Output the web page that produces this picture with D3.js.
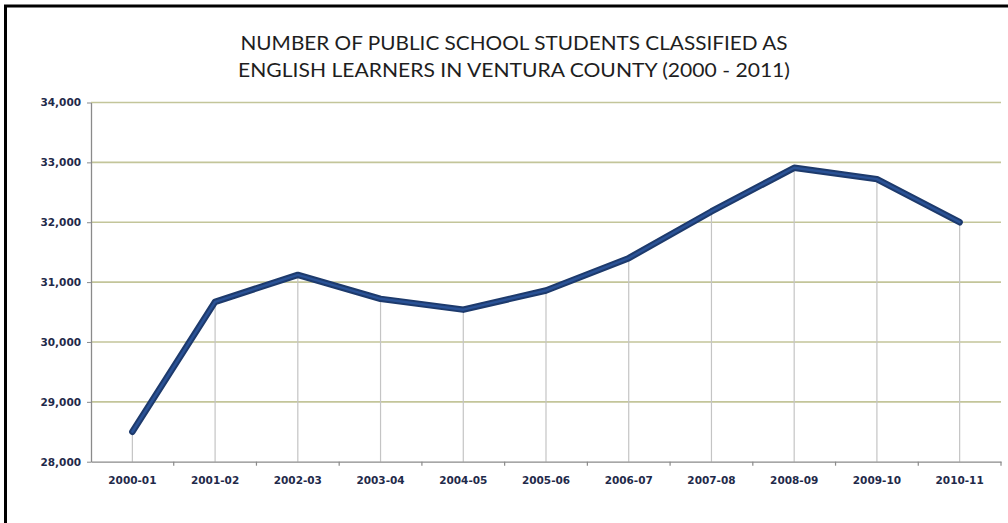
<!DOCTYPE html>
<html>
<head>
<meta charset="utf-8">
<script src="https://cdn.jsdelivr.net/npm/d3@7"></script>
<style>
  html, body { margin: 0; padding: 0; background: #fff; }
  svg { display: block; }
</style>
</head>
<body>
<svg id="chart" width="1008" height="523"></svg>
<script>
// School years on the x axis
const years = ["2000-01", "2001-02", "2002-03", "2003-04", "2004-05", "2005-06",
               "2006-07", "2007-08", "2008-09", "2009-10", "2010-11"];
// English learners enrolled in Ventura County public schools
const learners = [28500, 30670, 31120, 30720, 30540, 30860,
                  31400, 32180, 32910, 32720, 32000];
// Y axis tick values
const yTicks = [28000, 29000, 30000, 31000, 32000, 33000, 34000];
const titleLines = ["NUMBER OF PUBLIC SCHOOL STUDENTS CLASSIFIED AS",
                    "ENGLISH LEARNERS IN VENTURA COUNTY (2000 - 2011)"];

const svg = d3.select("#chart");
const margin = { left: 91, right: 1001, top: 102.5, bottom: 461.7 };

const x = d3.scaleBand().domain(years).range([margin.left, margin.right]);
const y = d3.scaleLinear().domain([28000, 34000]).range([margin.bottom, margin.top]);
const cx = d => x(d) + x.bandwidth() / 2;

// frame
svg.append("path")
  .attr("d", "M5.5,530 V6 H1012")
  .attr("fill", "none").attr("stroke", "#000").attr("stroke-width", 3);

// title
svg.append("g").selectAll("text").data(titleLines).join("text")
  .attr("x", 514).attr("y", (d, i) => 50 + i * 27)
  .attr("text-anchor", "middle")
  .attr("font-family", "Lato, 'DejaVu Sans', sans-serif")
  .attr("font-size", 20)
  .attr("font-weight", 400)
  .attr("fill", "#1e1e1e")
  .attr("textLength", (d, i) => i === 0 ? 547 : 552)
  .attr("lengthAdjust", "spacingAndGlyphs")
  .text(d => d);

// horizontal gridlines
svg.append("g").selectAll("line").data(yTicks.slice(1)).join("line")
  .attr("x1", margin.left).attr("x2", margin.right)
  .attr("y1", d => y(d)).attr("y2", d => y(d))
  .attr("stroke", "#c3c59a").attr("stroke-width", 1.6);

// drop lines from each point to the axis
svg.append("g").selectAll("line").data(years).join("line")
  .attr("x1", d => cx(d)).attr("x2", d => cx(d))
  .attr("y1", (d, i) => y(learners[i])).attr("y2", y(28000))
  .attr("stroke", "#c4c4c4").attr("stroke-width", 1.2);

// y axis
const yAxis = svg.append("g")
  .attr("transform", `translate(${margin.left},0)`)
  .call(d3.axisLeft(y).tickValues(yTicks).tickSize(4).tickSizeOuter(0).tickPadding(6)
        .tickFormat(d3.format(",")));
yAxis.select(".domain").attr("stroke", "#8a8a8a").attr("stroke-width", 1.3);
yAxis.selectAll(".tick line").attr("stroke", "#8a8a8a");
yAxis.selectAll(".tick text")
  .attr("font-family", "'DejaVu Sans', sans-serif").attr("font-size", 10.5)
  .attr("font-weight", "bold").attr("fill", "#1f2a4a");

// x axis with ticks on category boundaries
const xAxis = svg.append("g")
  .attr("transform", `translate(0,${margin.bottom})`)
  .call(d3.axisBottom(x).tickSize(0).tickPadding(15));
xAxis.select(".domain").attr("stroke", "#8a8a8a").attr("stroke-width", 1.3);
xAxis.selectAll(".tick text")
  .attr("font-family", "'DejaVu Sans', sans-serif").attr("font-size", 10.5)
  .attr("font-weight", "bold").attr("fill", "#1f2a4a");
xAxis.append("g").selectAll("line").data(years).join("line")
  .attr("x1", d => x(d) + x.bandwidth()).attr("x2", d => x(d) + x.bandwidth())
  .attr("y1", 0).attr("y2", 4)
  .attr("stroke", "#8a8a8a").attr("stroke-width", 1.2);

// the series line
const line = d3.line().x((d, i) => cx(years[i])).y(d => y(d));
svg.append("path").datum(learners)
  .attr("d", line).attr("fill", "none")
  .attr("stroke", "#1d3a6c").attr("stroke-width", 6.5)
  .attr("stroke-linejoin", "round").attr("stroke-linecap", "round");
svg.append("path").datum(learners)
  .attr("d", line).attr("fill", "none")
  .attr("stroke", "#2a5296").attr("stroke-width", 2.5)
  .attr("stroke-linejoin", "round").attr("stroke-linecap", "round");
</script>
</body>
</html>
